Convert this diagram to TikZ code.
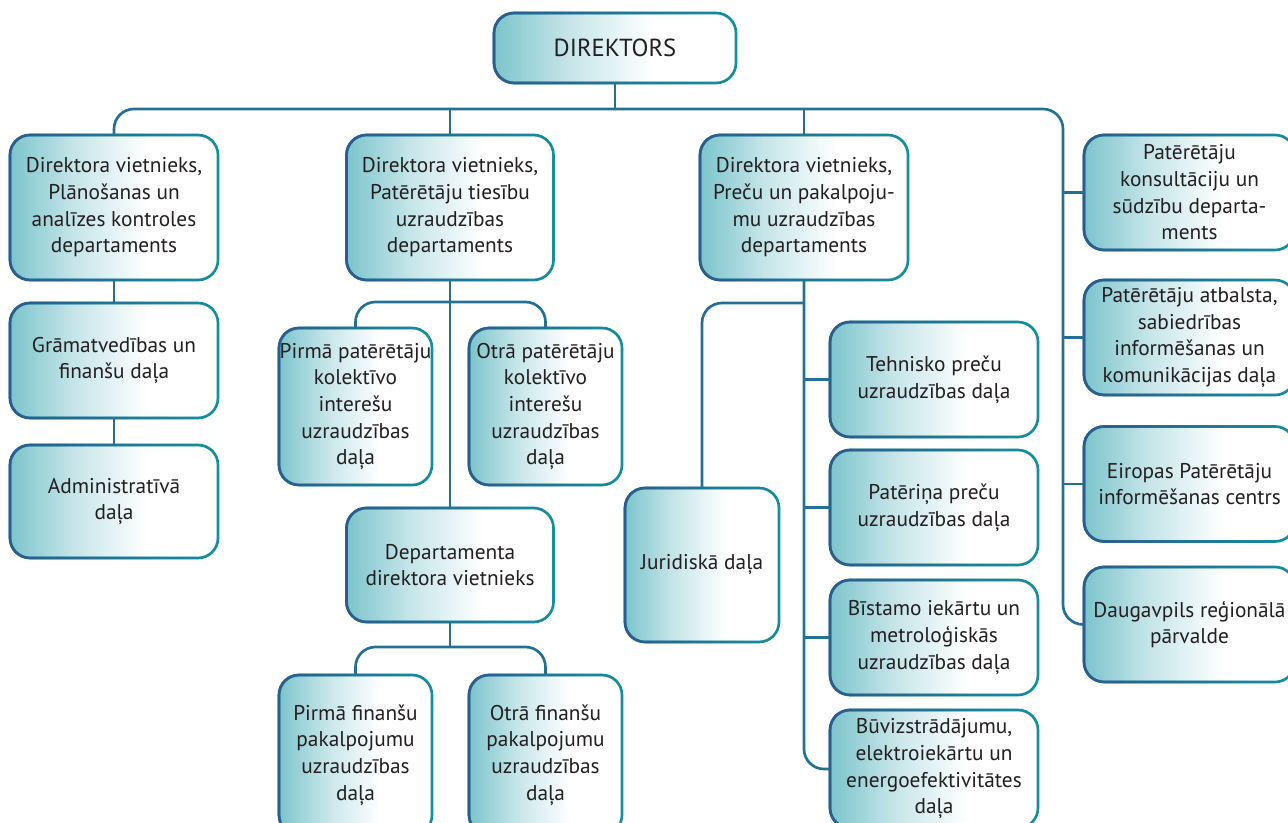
\documentclass[tikz,border=0pt]{standalone}
\usepackage{fontspec}
\setmainfont{PT Sans}
\usetikzlibrary{fadings}

\definecolor{boxteal}{HTML}{7CC4CC}
\definecolor{edgeblue}{HTML}{2E5B8C}
\definecolor{edgeteal}{HTML}{14909E}
\definecolor{txtdark}{HTML}{231F20}

\pgfdeclarehorizontalshading{boxfade}{100bp}{color(0bp)=(boxteal); color(25bp)=(boxteal); color(40bp)=(boxteal!45); color(58bp)=(white); color(100bp)=(white)}

\tikzset{
  box/.style={rectangle, rounded corners=15pt, draw=edgeteal, line width=2pt,
    shading=boxfade, outer sep=0pt, inner sep=0pt, align=center, text=txtdark,
    font=\fontsize{16}{20}\selectfont},
  link/.style={edgeblue!60!edgeteal, line width=2pt},
}

\begin{document}
\begin{tikzpicture}[x=0.75pt, y=-0.75pt]
\useasboundingbox (0,0) rectangle (1288,823);
% Director
\node[box, minimum width=181.5pt, minimum height=52.5pt,
  font=\fontsize{18.5}{22}\selectfont] (dir) at (615,48) {DIREKTORS};
% First column
\node[box, minimum width=156pt, minimum height=108.75pt] (vA) at (114,207.5)
  {Direktora vietnieks,\\Plānošanas un\\analīzes kontroles\\departaments};
\node[box, minimum width=156pt, minimum height=86.25pt] (gram) at (114,360.5)
  {Grāmatvedības un\\finanšu daļa};
\node[box, minimum width=156pt, minimum height=84.75pt] (admin) at (114,501.5)
  {Administratīvā\\daļa};
% Second column
\node[box, minimum width=155.25pt, minimum height=108.75pt] (vB) at (450,207.5)
  {Direktora vietnieks,\\Patērētāju tiesību\\uzraudzības\\departaments};
\node[box, minimum width=114.75pt, minimum height=117.75pt] (bP1) at (355.5,406.5)
  {Pirmā patērētāju\\kolektīvo\\interešu\\uzraudzības\\daļa};
\node[box, minimum width=114.75pt, minimum height=117.75pt] (bO1) at (545.5,406.5)
  {Otrā patērētāju\\kolektīvo\\interešu\\uzraudzības\\daļa};
\node[box, minimum width=155.25pt, minimum height=85.5pt] (bDep) at (450,565)
  {Departamenta\\direktora vietnieks};
\node[box, minimum width=114.75pt, minimum height=120pt] (bP2) at (355.5,755)
  {Pirmā finanšu\\pakalpojumu\\uzraudzības\\daļa};
\node[box, minimum width=114.75pt, minimum height=120pt] (bO2) at (545.5,755)
  {Otrā finanšu\\pakalpojumu\\uzraudzības\\daļa};
% Third column
\node[box, minimum width=156pt, minimum height=108.75pt] (vC) at (804,207.5)
  {Direktora vietnieks,\\Preču un pakalpoju-\\mu uzraudzības\\departaments};
\node[box, minimum width=115.5pt, minimum height=115.5pt] (jur) at (702,565)
  {Juridiskā daļa};
\node[box, minimum width=156pt, minimum height=86.25pt] (cTeh) at (934,379.5)
  {Tehnisko preču\\uzraudzības daļa};
\node[box, minimum width=156pt, minimum height=86.25pt] (cPat) at (934,507.5)
  {Patēriņa preču\\uzraudzības daļa};
\node[box, minimum width=156pt, minimum height=86.25pt] (cBis) at (934,637.5)
  {Bīstamo iekārtu un\\metroloģiskās\\uzraudzības daļa};
\node[box, minimum width=156pt, minimum height=88.5pt] (cBuv) at (934,769)
  {Būvizstrādājumu,\\elektroiekārtu un\\energoefektivitātes\\daļa};
% Right column
\node[box, minimum width=158.25pt, minimum height=86.25pt] (dD1) at (1189.5,192.5)
  {Patērētāju\\konsultāciju un\\sūdzību departa-\\ments};
\node[box, minimum width=158.25pt, minimum height=86.25pt] (dD2) at (1189.5,337.5)
  {Patērētāju atbalsta,\\sabiedrības\\informēšanas un\\komunikācijas daļa};
\node[box, minimum width=158.25pt, minimum height=86.25pt] (dD3) at (1189.5,484)
  {Eiropas Patērētāju\\informēšanas centrs};
\node[box, minimum width=158.25pt, minimum height=86.25pt] (dD4) at (1189.5,624.5)
  {Daugavpils reģionālā\\pārvalde};

% blue left edge on every box
\foreach \n in {dir,vA,gram,admin,vB,bP1,bO1,bDep,bP2,bO2,vC,jur,cTeh,cPat,cBis,cBuv,dD1,dD2,dD3,dD4}
  \draw[edgeblue, line width=2pt, rounded corners=15pt, path fading=east]
    (\n.south west) rectangle (\n.north east);

% Bus lines
\coordinate (bus) at (615,109);
\coordinate (rtrunk) at (1063,400);
\coordinate (bBus) at (450,302);
\coordinate (fBus) at (450,647);
\coordinate (cBus) at (804,303);

\draw[link, rounded corners=15pt] (vA.north) |- (bus) -| (rtrunk) |- (dD4.west);
\draw[link] (dir.south) -- (dir.south |- bus);
\draw[link] (vB.north) -- (vB.north |- bus);
\draw[link] (vC.north) -- (vC.north |- bus);
\foreach \n in {dD1,dD2,dD3}
  \draw[link] (\n.west -| rtrunk) -- (\n.west);

\draw[link] (vA.south) -- (gram.north);
\draw[link] (gram.south) -- (admin.north);

\draw[link] (vB.south) -- (bDep.north);
\draw[link, rounded corners=15pt] (bP1.north) |- (bBus) -| (bO1.north);
\draw[link] (bDep.south) -- (fBus);
\draw[link, rounded corners=15pt] (bP2.north) |- (fBus) -| (bO2.north);

\draw[link, rounded corners=15pt] (vC.south) |- (cBuv.west);
\foreach \n in {cTeh,cPat,cBis}
  \draw[link] (\n.west -| vC.south) -- (\n.west);
\draw[link, rounded corners=15pt] (cBus) -| (jur.north);
\end{tikzpicture}
\end{document}
